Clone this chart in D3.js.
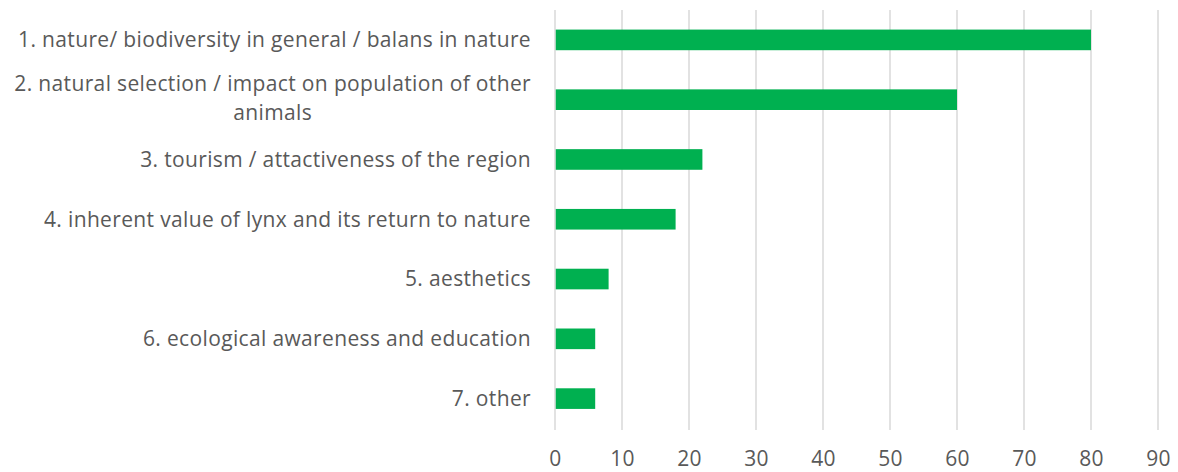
<!DOCTYPE html>
<html>
<head>
<meta charset="utf-8">
<script src="https://cdn.jsdelivr.net/npm/d3@7"></script>
<style>
  body { margin: 0; background: #fff; }
  text { font-family: "Open Sans", sans-serif; fill: #595959; letter-spacing: 0.35px; }
</style>
</head>
<body>
<script>
const categories = [
  "1. nature/ biodiversity in general / balans in nature",
  "2. natural selection / impact on population of other animals",
  "3. tourism / attactiveness of the region",
  "4. inherent value of lynx and its return to nature",
  "5. aesthetics",
  "6. ecological awareness and education",
  "7. other"
];
const values = [80, 60, 22, 18, 8, 6, 6];
const xTicks = [0, 10, 20, 30, 40, 50, 60, 70, 80, 90];

const w = 1178;
const h = 472;
const plotLeft = 555, plotRight = 1158, plotTop = 10, plotBottom = 430;

const svg = d3.select('body')
  .append('svg')
  .attr('width', w)
  .attr('height', h);

const xScale = d3.scaleLinear()
  .domain([0, 90])
  .range([plotLeft, plotRight]);

const yScale = d3.scaleBand()
  .domain(categories)
  .range([plotTop, plotBottom - 1.5])
  .paddingInner(0.655)
  .paddingOuter(0.3275);

// gridlines
svg.append('g')
  .selectAll('line')
  .data(xTicks)
  .enter().append('line')
  .attr('x1', d => xScale(d))
  .attr('x2', d => xScale(d))
  .attr('y1', plotTop)
  .attr('y2', plotBottom)
  .attr('stroke', '#d9d9d9')
  .attr('stroke-width', 1.5);

// bars
svg.append('g')
  .selectAll('rect')
  .data(values)
  .enter().append('rect')
  .attr('x', xScale(0) + 0.75)
  .attr('y', (d, i) => yScale(categories[i]))
  .attr('width', d => xScale(d) - xScale(0) - 0.75)
  .attr('height', yScale.bandwidth())
  .attr('fill', '#00b050');

// x axis labels
const xAxis = d3.axisBottom(xScale).tickValues(xTicks).tickSize(0).tickPadding(0);
const gx = svg.append('g')
  .attr('transform', 'translate(0,' + (plotBottom + 21) + ')')
  .call(xAxis);
gx.select('.domain').remove();
gx.selectAll('text')
  .attr('font-size', 21)
  .attr('font-family', '"Open Sans", sans-serif')
  .attr('fill', '#595959')
  .attr('dy', '0.71em');

// category labels, wrapped and right aligned
const labelRight = 531;
const maxWidth = 528;
const lineH = 29;
const labels = svg.append('g');
categories.forEach(function(cat) {
  const words = cat.split(' ');
  const t = labels.append('text').attr('font-size', 21);
  let lines = [];
  let line = [];
  const probe = t.append('tspan');
  words.forEach(function(wd) {
    line.push(wd);
    probe.text(line.join(' '));
    if (probe.node().getComputedTextLength() > maxWidth && line.length > 1) {
      line.pop();
      lines.push(line.join(' '));
      line = [wd];
    }
  });
  lines.push(line.join(' '));
  probe.remove();
  let widest = 0;
  lines.forEach(function(l) {
    const tmp = t.append('tspan').text(l);
    widest = Math.max(widest, tmp.node().getComputedTextLength());
    tmp.remove();
  });
  const cx = labelRight - widest / 2;
  const cy = yScale(cat) + yScale.bandwidth() / 2;
  const y0 = cy - (lines.length - 1) * lineH / 2 - (lines.length > 1 ? 2 : 0);
  lines.forEach(function(l, i) {
    t.append('tspan')
      .attr('x', cx)
      .attr('y', y0 + i * lineH)
      .attr('dy', '0.35em')
      .attr('text-anchor', 'middle')
      .text(l);
  });
});
</script>
</body>
</html>
